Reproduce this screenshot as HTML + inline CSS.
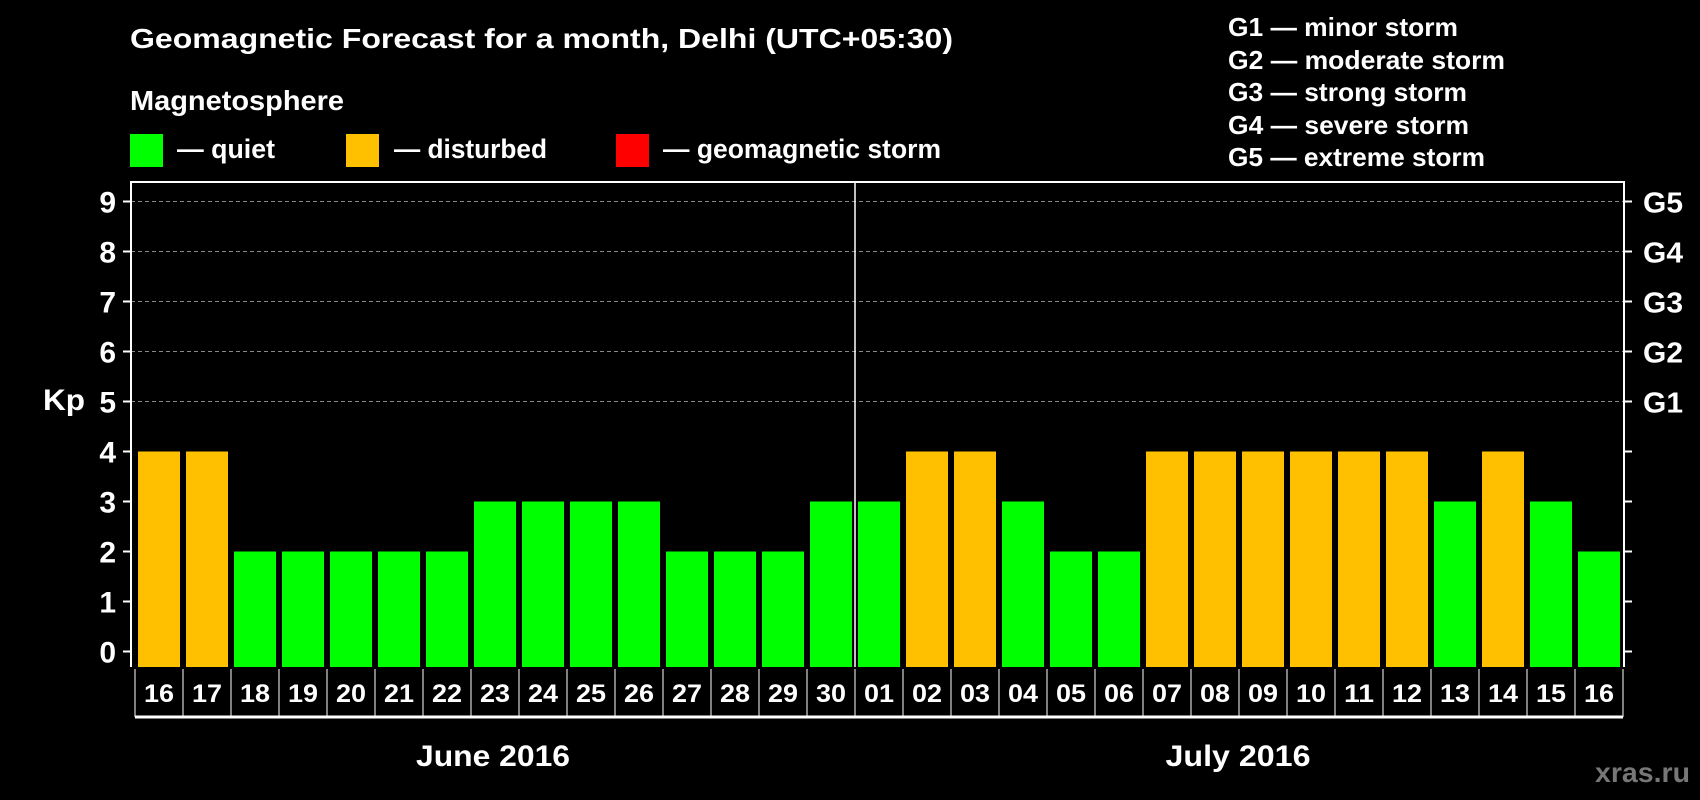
<!DOCTYPE html>
<html><head><meta charset="utf-8"><style>
html,body{margin:0;padding:0;background:#000;}
svg{display:block;font-family:"Liberation Sans",sans-serif;font-weight:bold;}
</style></head><body>
<svg id="chart" width="1700" height="800" viewBox="0 0 1700 800" xmlns="http://www.w3.org/2000/svg">
<rect width="1700" height="800" fill="#000"/>
<text x="130" y="48" fill="#fff" font-size="28" textLength="823" lengthAdjust="spacingAndGlyphs">Geomagnetic Forecast for a month, Delhi (UTC+05:30)</text>
<text x="130" y="110" fill="#fff" font-size="28" textLength="214" lengthAdjust="spacingAndGlyphs">Magnetosphere</text>
<g><rect x="130" y="134" width="33" height="33" fill="#00ff00"/><text x="177" y="158" fill="#fff" font-size="27" textLength="98" lengthAdjust="spacingAndGlyphs">— quiet</text></g>
<g><rect x="346" y="134" width="33" height="33" fill="#ffc000"/><text x="394" y="158" fill="#fff" font-size="27" textLength="153" lengthAdjust="spacingAndGlyphs">— disturbed</text></g>
<g><rect x="616" y="134" width="33" height="33" fill="#ff0000"/><text x="663" y="158" fill="#fff" font-size="27" textLength="278" lengthAdjust="spacingAndGlyphs">— geomagnetic storm</text></g>
<g fill="#fff" font-size="26">
<text x="1228" y="36" textLength="230" lengthAdjust="spacingAndGlyphs">G1 — minor storm</text>
<text x="1228" y="69" textLength="277" lengthAdjust="spacingAndGlyphs">G2 — moderate storm</text>
<text x="1228" y="101" textLength="239" lengthAdjust="spacingAndGlyphs">G3 — strong storm</text>
<text x="1228" y="134" textLength="241" lengthAdjust="spacingAndGlyphs">G4 — severe storm</text>
<text x="1228" y="166" textLength="257" lengthAdjust="spacingAndGlyphs">G5 — extreme storm</text>
</g>
<g id="grid"></g>
<g id="bars"></g>
<g id="axes"></g>
<text x="43" y="410" fill="#fff" font-size="30" textLength="42" lengthAdjust="spacingAndGlyphs">Kp</text>
<text x="493" y="766" fill="#fff" font-size="30" text-anchor="middle" textLength="154" lengthAdjust="spacingAndGlyphs">June 2016</text>
<text x="1238" y="766" fill="#fff" font-size="30" text-anchor="middle" textLength="145" lengthAdjust="spacingAndGlyphs">July 2016</text>
<text x="1690" y="782" fill="#777" font-size="28" text-anchor="end" textLength="95" lengthAdjust="spacingAndGlyphs">xras.ru</text>
</svg>
<script>
const days = ["16","17","18","19","20","21","22","23","24","25","26","27","28","29","30","01","02","03","04","05","06","07","08","09","10","11","12","13","14","15","16"];
const kpValues = [4,4,2,2,2,2,2,3,3,3,3,2,2,2,3,3,4,4,3,2,2,4,4,4,4,4,4,3,4,3,2];
const yTicks = [0,1,2,3,4,5,6,7,8,9];
const gLabels = ["G1","G2","G3","G4","G5"];
const gLevels = [5,6,7,8,9];
const monthBreakIndex = 15;

const NS = "http://www.w3.org/2000/svg";
const slot0 = 135, slotW = 48, barPad = 3;
const y0 = 651.5, unit = 50;
const frameL = 131, frameR = 1624, frameT = 182, frameB = 667;
const xScale = i => slot0 + i * slotW;
const yScale = v => y0 - v * unit;
function mk(tag, attrs, parent) {
  const e = document.createElementNS(NS, tag);
  for (const k in attrs) e.setAttribute(k, attrs[k]);
  parent.appendChild(e);
  return e;
}
const grid = document.getElementById("grid");
const bars = document.getElementById("bars");
const axes = document.getElementById("axes");

gLevels.forEach(v => {
  const l = mk("line", {x1: frameL, x2: frameR, y1: yScale(v), y2: yScale(v), stroke: "#888", "stroke-width": 1, "stroke-dasharray": "4,3"}, grid);
  
  
});

kpValues.forEach((v, i) => {
  const color = v >= 5 ? "#ff0000" : (v >= 4 ? "#ffc000" : "#00ff00");
  const r = mk("rect", {x: xScale(i) + barPad, y: yScale(v), width: slotW - 2 * barPad, height: frameB - yScale(v), fill: color}, bars);
  
  
});

// frame
const fr = mk("path", {d: `M${frameL} ${frameB} V${frameT} H${frameR} V${frameB}`, fill: "none", stroke: "#fff", "stroke-width": 2}, axes);


const sep = mk("line", {x1: xScale(monthBreakIndex), x2: xScale(monthBreakIndex), y1: frameT, y2: frameB, stroke: "#fff", "stroke-width": 1.5}, axes);



yTicks.forEach(v => {
  const y = yScale(v);
  mk("line", {x1: frameL - 8, x2: frameL, y1: y, y2: y, stroke: "#fff", "stroke-width": 2}, axes);
  mk("line", {x1: frameR, x2: frameR + 8, y1: y, y2: y, stroke: "#fff", "stroke-width": 2}, axes);
  const t = mk("text", {x: 116, y: y + 11, fill: "#fff", "font-size": 30, "text-anchor": "end"}, axes);
  t.textContent = v;
  
  
});
gLevels.forEach((v, i) => {
  const t = mk("text", {x: 1643, y: yScale(v) + 11, fill: "#fff", "font-size": 29, textLength: 40, lengthAdjust: "spacingAndGlyphs"}, axes);
  t.textContent = gLabels[i];
  
  
});

// date row
const rowT = 669, rowB = 717;
days.forEach((d, i) => {
  const x = xScale(i);
  mk("line", {x1: x, x2: x, y1: rowT, y2: rowB, stroke: "#fff", "stroke-width": 1}, axes);
  const t = mk("text", {x: x + slotW / 2, y: rowB - 15, fill: "#fff", "font-size": 25, "text-anchor": "middle", textLength: 30, lengthAdjust: "spacingAndGlyphs"}, axes);
  t.textContent = d;
  
  
});
mk("line", {x1: xScale(days.length), x2: xScale(days.length), y1: rowT, y2: rowB, stroke: "#fff", "stroke-width": 1}, axes);
const bl = mk("line", {x1: slot0, x2: xScale(days.length), y1: rowB, y2: rowB, stroke: "#fff", "stroke-width": 3}, axes);


</script>
</body></html>
